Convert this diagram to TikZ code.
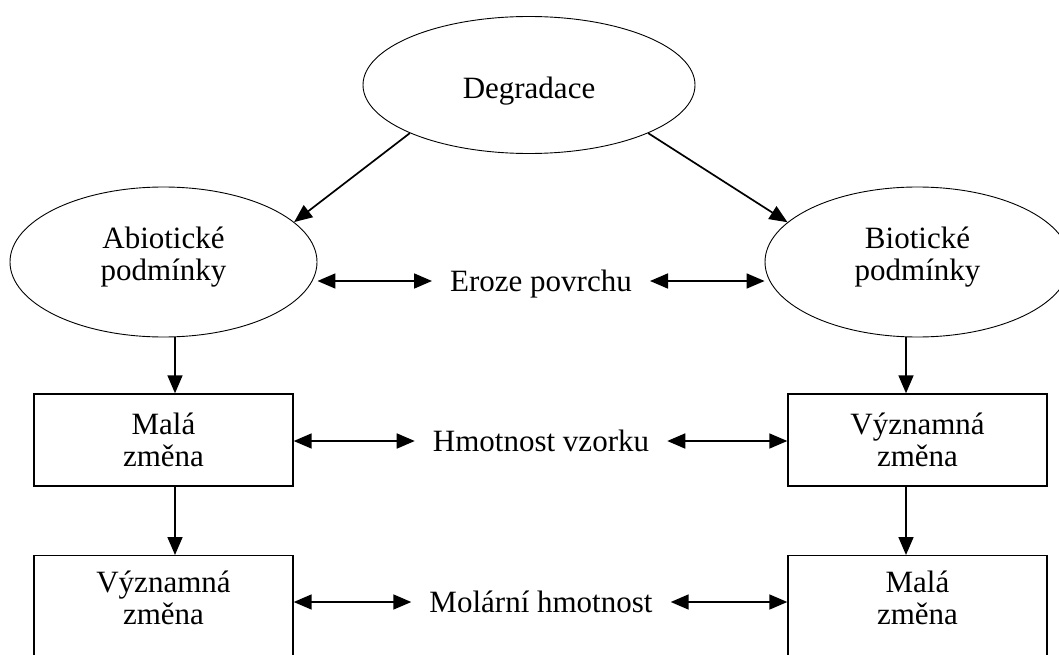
\documentclass[tikz,border=0pt]{standalone}
\usepackage{fontspec}
\setmainfont{Liberation Serif}
\usetikzlibrary{shapes.geometric,arrows.meta}
\begin{document}
\begin{tikzpicture}[x=1pt,y=-1pt,
  ell/.style={draw, ellipse, line width=0.9pt, inner sep=0pt, align=center, font=\fontsize{31}{32}\selectfont},
  box/.style={draw, rectangle, line width=1.4pt, minimum width=259pt, inner xsep=0pt, inner ysep=15pt, align=center, font=\fontsize{31}{32}\selectfont},
  lbl/.style={inner xsep=18pt, inner ysep=0pt, text height=21pt, text depth=0pt, font=\fontsize{31}{32}\selectfont},
  arr/.style={-{Triangle[length=18pt,width=15pt]}, line width=1.7pt},
  darr/.style={{Triangle[length=18pt,width=15pt]}-{Triangle[length=18pt,width=15pt]}, line width=1.7pt}]
\useasboundingbox (0,0) rectangle (1059,655);
\clip (0,0) rectangle (1059,655);

\node[ell, minimum width=332pt, minimum height=137pt] (deg) at (529,85) {\rule{0pt}{33pt}Degradace};
\node[ell, minimum width=307pt, minimum height=150pt] (abio) at (163.5,262) {Abiotické\\podmínky\rule[-16pt]{0pt}{0pt}};
\node[ell, minimum width=305pt, minimum height=150pt] (bio) at (917.5,262) {Biotické\\podmínky\rule[-16pt]{0pt}{0pt}};

\node[box, minimum height=92pt] (malaL) at (163.5,440) {Malá\\změna};
\node[box, minimum height=92pt] (vyzR) at (917.5,440) {Významná\\změna};
\node[box, anchor=north] (vyzL) at (163.5,555) {Významná\\změna\rule[-70pt]{0pt}{0pt}};
\node[box, anchor=north] (malaR) at (917.5,555) {Malá\\změna\rule[-70pt]{0pt}{0pt}};

\node[lbl] (eroze) at (541,281) {Eroze povrchu};
\node[lbl] (hmot) at (541,441) {Hmotnost vzorku};
\node[lbl] (molar) at (541,602) {Molární hmotnost};

\draw[arr] (deg.202) -- (abio.17);
\draw[arr] (deg.338) -- (bio.163);

\draw[arr] ([xshift=11.5pt]abio.south) -- ([xshift=11.5pt]malaL.north);
\draw[arr] ([xshift=11.5pt]malaL.south) -- ([xshift=11.5pt]vyzL.north);
\draw[arr] ([xshift=-11.5pt]bio.south) -- ([xshift=-11.5pt]vyzR.north);
\draw[arr] ([xshift=-11.5pt]vyzR.south) -- ([xshift=-11.5pt]malaR.north);

\draw[darr] (eroze.west) -- (eroze.west -| abio.east);
\draw[darr] (eroze.east) -- (eroze.east -| bio.west);
\draw[darr] (hmot.west) -- (hmot.west -| malaL.east);
\draw[darr] (hmot.east) -- (hmot.east -| vyzR.west);
\draw[darr] (molar.west) -- (molar.west -| vyzL.east);
\draw[darr] (molar.east) -- (molar.east -| malaR.west);
\end{tikzpicture}
\end{document}
